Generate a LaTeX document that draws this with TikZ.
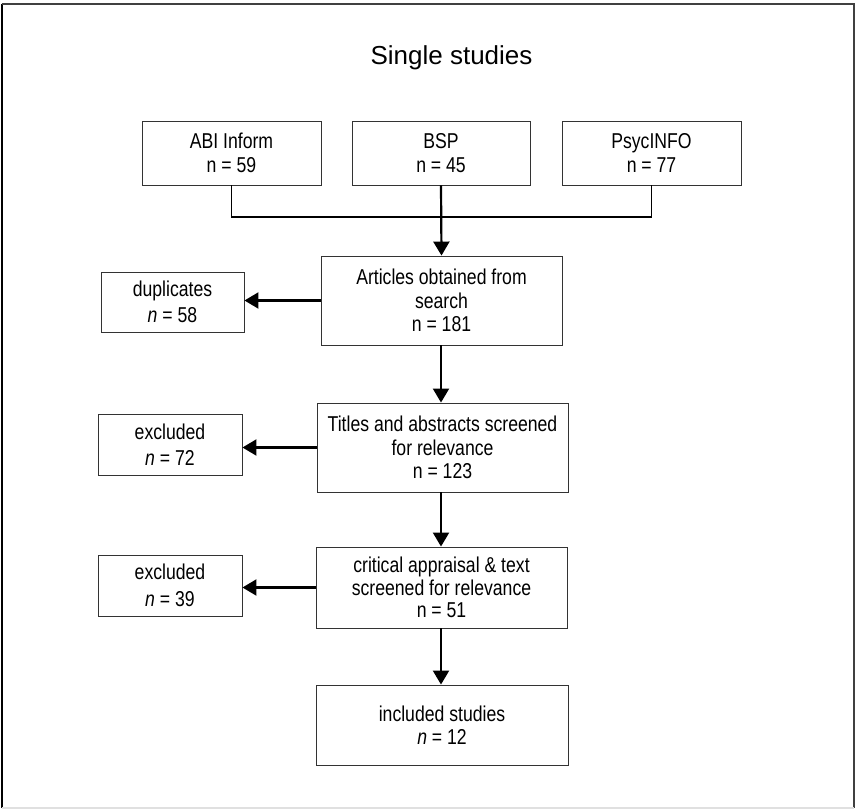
\documentclass[tikz,border=0pt]{standalone}
\usepackage{fontspec}
\setmainfont{Liberation Sans}[FakeStretch=0.82]
\newfontfamily\titlefont{Liberation Sans}
\usetikzlibrary{arrows.meta}

\begin{document}
\begin{tikzpicture}[x=1pt,y=-1pt,
	box/.style={draw={black!80},line width=0.9pt,align=center,inner sep=0pt,
		font=\fontsize{21.5}{22.5}\selectfont},
	arr/.style={line width=2.2pt,-{Triangle[length=14pt,width=16pt]}}]
	\useasboundingbox (0,0) rectangle (856,810);
	% frame
	\draw[line width=2pt] (1.5,4) -- (1.5,808);
	\draw[line width=1.5pt,black!75] (1.5,4) -- (854,4) -- (854,808);
	\draw[line width=1.5pt,black!12] (1.5,808) -- (854,808);

	\node[font=\titlefont\fontsize{26}{30}\selectfont,anchor=base] (title) at (451.5,65) {Single studies};

	% databases
	\node[box,minimum width=179pt,minimum height=64pt] (abi) at (231.5,153) {ABI Inform\\[2pt] n = 59};
	\node[box,minimum width=178pt,minimum height=64pt] (bsp) at (441,153) {BSP\\[2pt] n = 45};
	\node[box,minimum width=179pt,minimum height=64pt] (psyc) at (651.5,153) {PsycINFO\\[2pt] n = 77};
	\coordinate (bus) at (442,217);
	\draw[line width=1.5pt] (abi.south) |- (bus) -| (psyc.south);

	% main line
	\node[box,minimum width=241pt,minimum height=89pt] (articles) at (441.5,300.5)
		{Articles obtained from\\[1pt] search\\[1pt] n = 181};
	\node[box,minimum width=251pt,minimum height=89pt] (titles) at (442.5,447.5)
		{Titles and abstracts screened\\[1pt] for relevance\\[1pt] n = 123};
	\node[box,minimum width=251pt,minimum height=81pt] (critical) at (441.5,587.5)
		{critical appraisal \& text\\ screened for relevance\\ n = 51};
	\node[box,minimum width=252pt,minimum height=80pt] (included) at (442,725)
		{included studies\\ \textit{n} = 12};

	% removed
	\node[box,minimum width=143pt,minimum height=60pt] (dup) at (172.5,302) {duplicates\\[4pt] \textit{n} = 58};
	\node[box,minimum width=144pt,minimum height=61pt] (excl1) at (170,444.5) {excluded\\[4pt] \textit{n} = 72};
	\node[box,minimum width=144pt,minimum height=61pt] (excl2) at (170,585.5) {excluded\\[4pt] \textit{n} = 39};

	\draw[arr] (bsp.south) -- (articles.north);
	\draw[arr] (articles.south -| bsp.south) -- (titles.north -| bsp.south);
	\draw[arr] (titles.south -| bsp.south) -- (critical.north -| bsp.south);
	\draw[arr] (critical.south -| bsp.south) -- (included.north -| bsp.south);
	\draw[arr] (articles.west) -- (articles.west -| dup.east);
	\draw[arr] (titles.west) -- (titles.west -| excl1.east);
	\draw[arr] (critical.west) -- (critical.west -| excl2.east);
\end{tikzpicture}
\end{document}
